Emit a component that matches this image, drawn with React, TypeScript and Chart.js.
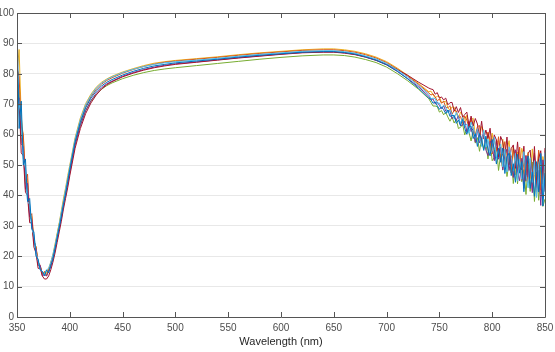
import React, { useEffect, useRef } from "react";
import { Chart, registerables } from "chart.js";

Chart.register(...registerables);

const WL = [
  350, 352, 354, 356, 358, 360, 362, 364, 366, 368, 370, 372, 374, 376, 378, 380, 382, 384, 386, 388, 390, 392, 394, 396, 398, 400,
  405, 410, 415, 420, 425, 430, 435, 440, 450, 460, 470, 480, 490, 500, 520, 540, 560, 580, 600, 620, 640, 650, 660, 670, 680, 690, 700, 710, 720, 730, 740,
  742, 744, 746, 748, 750, 752, 754, 756, 758, 760, 762, 764, 766, 768, 770, 772, 774, 776, 778, 780, 782, 784, 786, 788, 790, 792, 794, 796, 798, 800,
  802, 804, 806, 808, 810, 812, 814, 816, 818, 820, 822, 824, 826, 828, 830, 832, 834, 836, 838, 840, 842, 844, 846, 848, 850,
];

const BLUE = [
  97, 62, 71, 50, 52, 38, 39, 29, 28, 20, 19, 15.5, 15, 13.5, 15.5, 14.5, 17, 19, 22.5, 26, 29.5, 33, 37, 40.5, 44.5, 48.5,
  57.5, 64, 68.8, 72, 74.3, 76, 77.2, 78.1, 79.6, 80.8, 81.8, 82.6, 83.1, 83.6, 84.2, 84.8, 85.5, 86.1, 86.6, 87.1, 87.3, 87.3, 87.0, 86.5, 85.6, 84.5, 83.0, 80.9, 78.3, 75.3, 72.0,
  71.5, 70.3, 70.8, 69.5, 68.3, 69.1, 68.2, 66.9, 68.1, 66.0, 66.3, 66.3, 63.7, 64.8, 62.9, 65.0, 62.1, 60.1, 62.6, 62.8, 58.7, 60.3, 56.1, 60.3, 58.1, 54.8, 59.5, 54.9, 53.0, 58.4,
  55.1, 50.3, 55.5, 50.9, 55.6, 47.2, 52.7, 53.9, 46.5, 50.4, 44.3, 53.5, 47.3, 51.1, 41.2, 49.8, 53.0, 42.3, 47.7, 39.7, 51.1, 41.1, 53.8, 36.5, 47.4,
];
const ORANGE = [
  82, 79, 63, 60, 45, 47, 33, 34, 25, 23, 18, 17, 14, 15, 13.5, 15.5, 17.5, 20, 23, 26.5, 30, 33.5, 37.5, 41, 45, 48.5,
  58, 64.5, 69.3, 72.5, 74.9, 76.6, 77.8, 78.7, 80.2, 81.4, 82.4, 83.2, 83.8, 84.2, 84.8, 85.4, 86.1, 86.7, 87.2, 87.7, 87.9, 87.9, 87.6, 87.1, 86.3, 85.2, 83.7, 81.6, 79.2, 76.6, 73.7,
  73.0, 73.4, 72.4, 71.1, 71.7, 70.3, 71.0, 69.0, 68.8, 69.5, 66.7, 68.0, 67.8, 65.4, 66.0, 63.6, 66.1, 64.8, 62.2, 65.3, 61.8, 59.6, 62.6, 63.0, 56.7, 60.3, 57.2, 60.7, 58.2, 53.6,
  58.8, 54.5, 59.3, 51.5, 53.7, 57.7, 50.2, 54.9, 47.4, 55.7, 53.1, 48.0, 55.9, 45.0, 50.9, 53.2, 44.1, 52.0, 41.6, 53.9, 45.1, 54.9, 41.7, 50.5, 47.5,
];
const YELLOW = [
  80, 88, 66, 59, 47, 45, 34, 33, 25, 23, 18, 16.5, 14.5, 14.5, 14.5, 16, 18, 20.5, 24, 27.5, 31, 35, 39, 42.5, 46.5, 50,
  59, 65.5, 70.2, 73.3, 75.6, 77.2, 78.3, 79.2, 80.6, 81.7, 82.7, 83.5, 84.0, 84.4, 85.0, 85.6, 86.3, 86.9, 87.4, 87.9, 88.2, 88.2, 87.9, 87.4, 86.6, 85.5, 84.0, 81.9, 79.5, 76.9, 74.1,
  74.3, 73.1, 72.1, 72.6, 72.5, 70.5, 70.8, 71.0, 68.9, 68.0, 69.1, 69.0, 67.1, 65.2, 67.4, 66.3, 63.8, 66.4, 63.1, 64.8, 65.4, 59.8, 61.9, 59.0, 62.7, 61.1, 55.9, 60.8, 57.1, 60.5,
  53.9, 57.6, 58.0, 51.1, 58.5, 52.2, 54.7, 58.0, 49.6, 56.2, 46.8, 54.3, 49.2, 55.5, 52.7, 44.4, 54.2, 45.5, 55.3, 46.8, 42.4, 54.5, 40.5, 52.8, 45.1,
];
const PURPLE = [
  74, 72, 57, 56, 42, 44, 33, 32, 25, 22.5, 17, 17, 13.5, 14, 13.5, 15, 16.5, 19, 22, 25.5, 29, 32.5, 36.5, 40, 43.5, 47.5,
  56.5, 63, 67.8, 71.2, 73.6, 75.4, 76.7, 77.6, 79.2, 80.4, 81.4, 82.2, 82.8, 83.3, 83.9, 84.6, 85.3, 85.9, 86.5, 87.0, 87.2, 87.2, 86.9, 86.4, 85.5, 84.4, 82.9, 80.8, 78.4, 75.8, 72.6,
  71.6, 71.7, 70.1, 70.7, 69.6, 68.4, 69.5, 67.7, 67.9, 67.8, 65.2, 66.2, 64.7, 66.2, 63.0, 63.1, 64.4, 60.8, 64.3, 61.0, 62.0, 57.5, 61.7, 57.3, 59.0, 60.5, 54.9, 53.1, 57.9, 56.5,
  51.4, 58.3, 51.9, 56.0, 48.4, 53.2, 55.2, 48.2, 53.0, 45.9, 55.0, 47.7, 44.8, 52.2, 42.3, 53.0, 46.0, 50.5, 40.9, 53.1, 41.2, 48.3, 36.7, 51.7, 41.2,
];
const GREEN = [
  78, 74, 59, 56, 44, 43, 34, 31.5, 25, 23, 17, 16.5, 14.5, 14.5, 14, 15.5, 17.5, 20, 23, 27, 30.5, 34, 38, 41.5, 45, 48.5,
  57, 63.2, 67.9, 71.0, 73.2, 74.9, 76.1, 77.0, 78.4, 79.5, 80.4, 81.1, 81.6, 82.0, 82.7, 83.4, 84.1, 84.8, 85.4, 85.9, 86.2, 86.2, 86.0, 85.5, 84.7, 83.7, 82.2, 80.1, 77.7, 75.0, 71.8,
  70.6, 69.4, 69.4, 69.2, 67.4, 67.9, 66.5, 67.3, 65.8, 64.4, 65.8, 63.8, 65.1, 62.0, 62.4, 63.4, 59.9, 62.0, 60.8, 57.9, 61.4, 57.2, 59.0, 54.5, 58.8, 55.2, 57.4, 52.0, 58.0, 51.4,
  52.5, 55.9, 48.2, 53.5, 48.3, 54.7, 46.2, 50.8, 52.5, 43.9, 51.3, 43.8, 51.7, 44.5, 48.5, 40.3, 50.0, 41.3, 51.0, 38.0, 47.7, 38.4, 49.3, 36.4, 38.8,
];
const LIGHTBLUE = [
  84, 70, 66, 52, 49, 38, 37, 29, 27, 21, 18.5, 15.5, 15, 14, 15.5, 16, 18, 20.5, 23.5, 27, 30.5, 34.5, 38, 42, 45.5, 49.5,
  58.5, 65, 69.8, 72.9, 75.3, 76.9, 78.1, 79.0, 80.4, 81.5, 82.4, 83.1, 83.6, 84.0, 84.5, 85.1, 85.8, 86.4, 86.9, 87.4, 87.6, 87.6, 87.3, 86.8, 85.9, 84.9, 83.4, 81.3, 78.9, 76.2, 73.2,
  71.8, 72.0, 71.8, 70.3, 70.4, 68.7, 69.7, 69.0, 67.2, 68.1, 66.6, 65.2, 67.3, 65.5, 63.7, 65.6, 62.7, 63.5, 60.4, 64.1, 62.2, 58.9, 61.9, 58.8, 56.1, 61.4, 55.8, 58.5, 53.6, 54.6,
  59.1, 52.2, 55.1, 56.9, 49.4, 55.2, 47.7, 56.0, 52.9, 48.1, 53.8, 44.7, 51.9, 45.3, 54.4, 46.9, 42.5, 52.4, 44.3, 51.4, 39.3, 50.5, 53.0, 39.4, 54.1,
];
const RED = [
  70, 72, 54, 53, 41, 40, 31, 31, 23, 21, 16, 16, 13.5, 12.5, 12.5, 13.5, 15.5, 18, 21, 24.5, 28, 31.5, 35.5, 39, 42.5, 46.5,
  55.5, 62, 66.9, 70.4, 73.0, 75.0, 76.4, 77.4, 79.0, 80.2, 81.2, 82.0, 82.6, 83.1, 83.8, 84.5, 85.2, 85.8, 86.4, 86.9, 87.1, 87.1, 86.8, 86.3, 85.5, 84.5, 83.1, 81.4, 79.5, 77.3, 75.3,
  75.0, 74.8, 73.3, 73.8, 72.0, 72.4, 71.4, 72.0, 69.8, 70.5, 70.6, 67.7, 69.2, 67.3, 68.9, 65.7, 66.6, 67.4, 62.9, 66.1, 62.8, 65.3, 63.5, 59.3, 64.4, 58.6, 61.5, 58.7, 62.1, 55.5,
  59.9, 58.2, 52.7, 59.4, 57.6, 52.2, 59.2, 50.1, 55.4, 56.6, 48.9, 57.6, 49.6, 48.4, 56.2, 44.8, 53.8, 54.9, 45.3, 56.1, 42.6, 52.2, 54.7, 43.7, 55.6,
];

const SERIES: { name: string; color: string; values: number[] }[] = [
  { name: "S1", color: "#0072BD", values: BLUE },
  { name: "S6", color: "#4DBEEE", values: LIGHTBLUE },
  { name: "S7", color: "#A2142F", values: RED },
  { name: "S4", color: "#7E2F8E", values: PURPLE },
  { name: "S2", color: "#D95319", values: ORANGE },
  { name: "S3", color: "#EDB120", values: YELLOW },
  { name: "S5", color: "#77AC30", values: GREEN },
];

const X_TICKS = [350, 400, 450, 500, 550, 600, 650, 700, 750, 800, 850];
const Y_TICKS = [0, 10, 20, 30, 40, 50, 60, 70, 80, 90, 100];
const X_TITLE = "Wavelength (nm)";

const framePlugin = {
  id: "frame",
  afterDraw(chart: any) {
    const { ctx, chartArea } = chart;
    const { left, right, top, bottom } = chartArea;
    const xs = chart.scales.x;
    const ys = chart.scales.y;
    ctx.save();
    ctx.strokeStyle = "#555555";
    ctx.lineWidth = 1;
    ctx.beginPath();
    ctx.rect(Math.round(left) + 0.5, Math.round(top) + 0.5, Math.round(right - left), Math.round(bottom - top));
    ctx.stroke();
    const tl = 5;
    ctx.beginPath();
    X_TICKS.forEach((v) => {
      const px = Math.round(xs.getPixelForValue(v)) + 0.5;
      ctx.moveTo(px, bottom);
      ctx.lineTo(px, bottom - tl);
      ctx.moveTo(px, top);
      ctx.lineTo(px, top + tl);
    });
    Y_TICKS.forEach((v) => {
      const py = Math.round(ys.getPixelForValue(v)) + 0.5;
      ctx.moveTo(left, py);
      ctx.lineTo(left + tl, py);
      ctx.moveTo(right, py);
      ctx.lineTo(right - tl, py);
    });
    ctx.stroke();
    ctx.restore();
  },
};

export default function App() {
  const ref = useRef<HTMLCanvasElement | null>(null);
  useEffect(() => {
    document.body.style.margin = "0";
    const canvas = ref.current;
    if (!canvas) return;
    const font = { family: "'Liberation Sans', Arial, sans-serif", size: 10 };
    const chart = new Chart(canvas, {
      type: "line",
      data: {
        datasets: SERIES.map((s) => ({
          label: s.name,
          data: WL.map((w, i) => ({ x: w, y: s.values[i] })),
          borderColor: s.color,
          backgroundColor: s.color,
          borderWidth: 1,
          pointRadius: 0,
          tension: 0,
          fill: false,
        })),
      },
      options: {
        animation: false,
        responsive: false,
        maintainAspectRatio: false,
        layout: { padding: { top: 13, right: 10, left: 0, bottom: 0 } },
        plugins: { legend: { display: false }, tooltip: { enabled: false } },
        scales: {
          x: {
            type: "linear",
            min: 350,
            max: 850,
            afterBuildTicks: (scale: any) => {
              scale.ticks = X_TICKS.map((v) => ({ value: v }));
            },
            afterFit: (scale: any) => {
              scale.height = 35;
              scale.paddingLeft = 0;
              scale.paddingRight = 0;
            },
            grid: { display: false, drawTicks: false },
            border: { display: false },
            ticks: { color: "#4d4d4d", font, padding: 5, maxRotation: 0 },
            title: { display: true, text: X_TITLE, color: "#262626", font: { ...font, size: 11 }, padding: { top: 1, bottom: 3 } },
          },
          y: {
            type: "linear",
            min: 0,
            max: 100,
            afterBuildTicks: (scale: any) => {
              scale.ticks = Y_TICKS.map((v) => ({ value: v }));
            },
            afterFit: (scale: any) => {
              scale.width = 17;
              scale.paddingTop = 0;
              scale.paddingBottom = 0;
            },
            grid: { color: "#e8e8e8", drawTicks: false, lineWidth: 1 },
            border: { display: false },
            ticks: { color: "#4d4d4d", font, padding: 3 },
          },
        },
      },
      plugins: [framePlugin],
    });
    return () => chart.destroy();
  }, []);
  return (
    <div style={{ width: 555, height: 352, background: "#fff" }}>
      <canvas ref={ref} width={555} height={352} style={{ display: "block" }} />
    </div>
  );
}
